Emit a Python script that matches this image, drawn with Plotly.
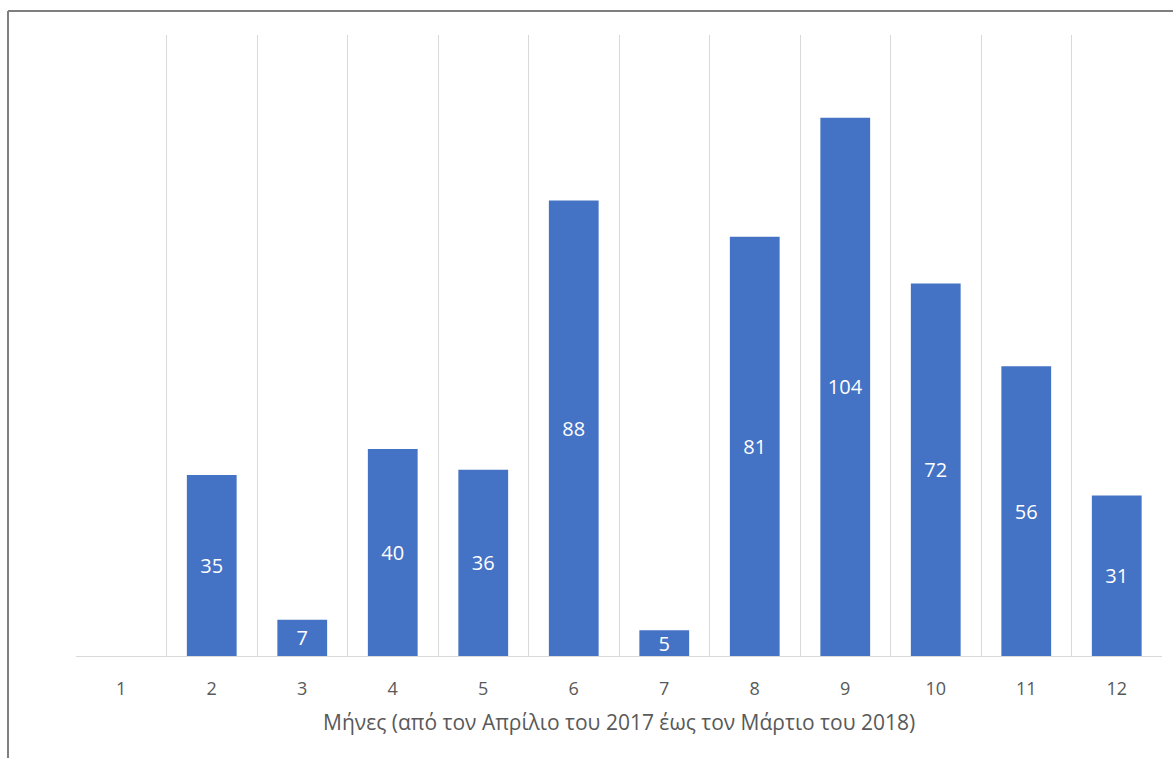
import plotly.graph_objects as go

months = [1, 2, 3, 4, 5, 6, 7, 8, 9, 10, 11, 12]
values = [0, 35, 7, 40, 36, 88, 5, 81, 104, 72, 56, 31]
tick_labels = [str(m) for m in months]
x_title = "Μήνες (από τον Απρίλιο του 2017 έως τον Μάρτιο του 2018)"

W, H = 1173, 758
L, R, T, B = 76, 1162, 35, 656

labels = [str(v) if v != 0 else "" for v in values]

fig = go.Figure(go.Bar(
    x=months, y=values,
    marker=dict(color="#4472C4", line=dict(width=0)),
    width=0.55,
    text=labels, textposition="inside", insidetextanchor="middle",
    textangle=0,
    textfont=dict(family="Open Sans", size=20, color="white"),
    cliponaxis=False,
))

fig.update_layout(
    width=W, height=H,
    margin=dict(l=L, r=W - R, t=T, b=H - B, pad=0),
    paper_bgcolor="white", plot_bgcolor="white",
    showlegend=False,
    uniformtext=dict(mode="show", minsize=20),
    font=dict(family="Open Sans", color="#595959"),
    xaxis=dict(
        range=[0.5, 12.5],
        tickvals=months, ticktext=tick_labels,
        tickfont=dict(size=18, color="#595959"),
        ticks="outside", ticklen=16, tickcolor="rgba(0,0,0,0)",
        showgrid=False, zeroline=False,
        showline=True, linecolor="#d9d9d9", linewidth=1,
        minor=dict(tickvals=[m - 0.5 for m in months], showgrid=True,
                   gridcolor="#d9d9d9", gridwidth=1, ticks=""),
    ),
    yaxis=dict(range=[0, 120], visible=False, showgrid=False, zeroline=False),
    annotations=[dict(
        text=x_title, xref="paper", yref="paper",
        x=0.5, y=(B - 722) / (B - T), xanchor="center", yanchor="middle",
        showarrow=False, font=dict(family="Open Sans", size=21, color="#595959"),
    )],
    shapes=[
        dict(type="line", xref="paper", yref="paper",
             x0=(8 - L) / (R - L), x1=(W + 5 - L) / (R - L),
             y0=(B - 11) / (B - T), y1=(B - 11) / (B - T),
             line=dict(color="#7f7f7f", width=2)),
        dict(type="line", xref="paper", yref="paper",
             x0=(8 - L) / (R - L), x1=(8 - L) / (R - L),
             y0=(B - 11) / (B - T), y1=(B - H - 5) / (B - T),
             line=dict(color="#7f7f7f", width=2)),
    ],
)

fig.write_html("out.html")
